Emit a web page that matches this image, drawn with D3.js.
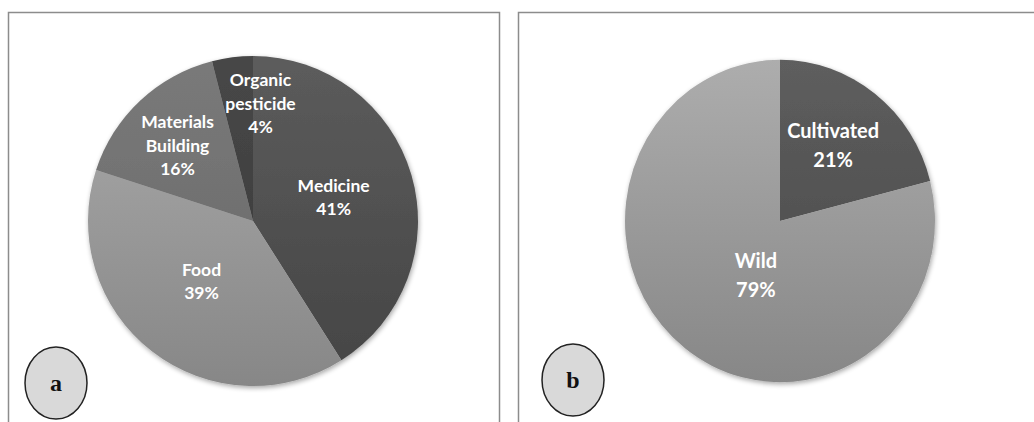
<!DOCTYPE html>
<html><head><meta charset="utf-8">
<script src="https://cdn.jsdelivr.net/npm/d3@7"></script>
<style>html,body{margin:0;padding:0;background:#fff;}svg{display:block;}</style>
</head><body>
<svg id="c" width="1034" height="422"></svg>
<script>
// Data
const usesCategories = ["Medicine", "Food", "Materials Building", "Organic pesticide"];
const usesValues = [41, 39, 16, 4];
const usesLabelLines = [["Medicine","41%"],["Food","39%"],["Materials","Building","16%"],["Organic","pesticide","4%"]];
const sourceCategories = ["Cultivated", "Wild"];
const sourceValues = [21, 79];
const sourceLabelLines = [["Cultivated","21%"],["Wild","79%"]];
const panelLetters = ["a", "b"];

// Styles
const usesColors = [["#5c5c5c","#444444"],["#ababab","#878787"],["#7a7a7a","#666666"],["#474747","#3a3a3a"]];
const sourceColors = [["#5e5e5e","#464646"],["#adadad","#878787"]];

const svg = d3.select("#c");
const defs = svg.append("defs");
const f = defs.append("filter").attr("id","sh").attr("x","-10%").attr("y","-10%").attr("width","120%").attr("height","120%");
f.append("feGaussianBlur").attr("in","SourceAlpha").attr("stdDeviation",2.5);
f.append("feOffset").attr("dx",1).attr("dy",2).attr("result","b");
f.append("feComponentTransfer").append("feFuncA").attr("type","linear").attr("slope",0.35);
const m = f.append("feMerge"); m.append("feMergeNode"); m.append("feMergeNode").attr("in","SourceGraphic");

// panel borders
svg.append("rect").attr("x",8.5).attr("y",12.5).attr("width",491).attr("height",430)
  .attr("fill","none").attr("stroke","#8c8c8c").attr("stroke-width",1.5);
svg.append("rect").attr("x",518.5).attr("y",12.5).attr("width",530).attr("height",430)
  .attr("fill","none").attr("stroke","#8c8c8c").attr("stroke-width",1.5);

function drawPie(opts){
  const {cx, cy, r, sy, values, lines, colors, id, fontSize, lineH, labelR, nudges} = opts;
  const g = svg.append("g").attr("transform",`translate(${cx},${cy}) scale(1,${sy})`);
  const pie = d3.pie().sort(null).value(d=>d)(values);
  const arc = d3.arc().innerRadius(0).outerRadius(r);
  colors.forEach((c,i)=>{
    const lg = defs.append("linearGradient").attr("id",id+i).attr("gradientUnits","userSpaceOnUse")
      .attr("x1",0).attr("y1",-r).attr("x2",0).attr("y2",r);
    lg.append("stop").attr("offset","0").attr("stop-color",c[0]);
    lg.append("stop").attr("offset","1").attr("stop-color",c[1]);
  });
  const sg = g.append("g").attr("filter","url(#sh)");
  sg.selectAll("path").data(pie).join("path")
    .attr("d",arc).attr("fill",(d,i)=>`url(#${id}${i})`)
    .attr("stroke","none");
  const la = d3.arc().innerRadius(labelR).outerRadius(labelR);
  pie.forEach((d,i)=>{
    const [x,y] = la.centroid(d);
    const nx = x + nudges[i][0], ny = y + nudges[i][1];
    const L = lines[i];
    const t = g.append("text").attr("text-anchor","middle")
      .attr("font-family","Lato, 'Open Sans', sans-serif").attr("font-weight","bold")
      .attr("font-size",fontSize).attr("fill","#ffffff");
    L.forEach((s,k)=>{
      t.append("tspan").attr("x",nx).attr("y", ny + (k - (L.length-1)/2)*lineH)
        .attr("dy","0.35em").text(s);
    });
  });
}

drawPie({cx:253, cy:221, r:165, sy:1, values:usesValues, lines:usesLabelLines,
  colors:usesColors, id:"ga", fontSize:17.5, lineH:23.5, labelR:84,
  nudges:[[0,0],[0,-6],[-18,-14],[18,-34]]});
drawPie({cx:780, cy:221, r:155, sy:1.04, values:sourceValues, lines:sourceLabelLines,
  colors:sourceColors, id:"gb", fontSize:20, lineH:28, labelR:90,
  nudges:[[-2,-2],[31,-19]]});

// badges
const badges = [{cx:56, cy:383}, {cx:573, cy:380}];
badges.forEach((b,i)=>{
  svg.append("ellipse").attr("cx",b.cx).attr("cy",b.cy).attr("rx",31).attr("ry",36)
    .attr("fill","#d9d9d9").attr("stroke","#222").attr("stroke-width",1.5);
  svg.append("text").attr("x",b.cx).attr("y",b.cy).attr("dy","0.35em").attr("text-anchor","middle")
    .attr("font-family","'Liberation Serif', 'DejaVu Serif', serif").attr("font-weight","bold")
    .attr("font-size",24).attr("fill","#111").text(panelLetters[i]);
});
</script>
</body></html>
